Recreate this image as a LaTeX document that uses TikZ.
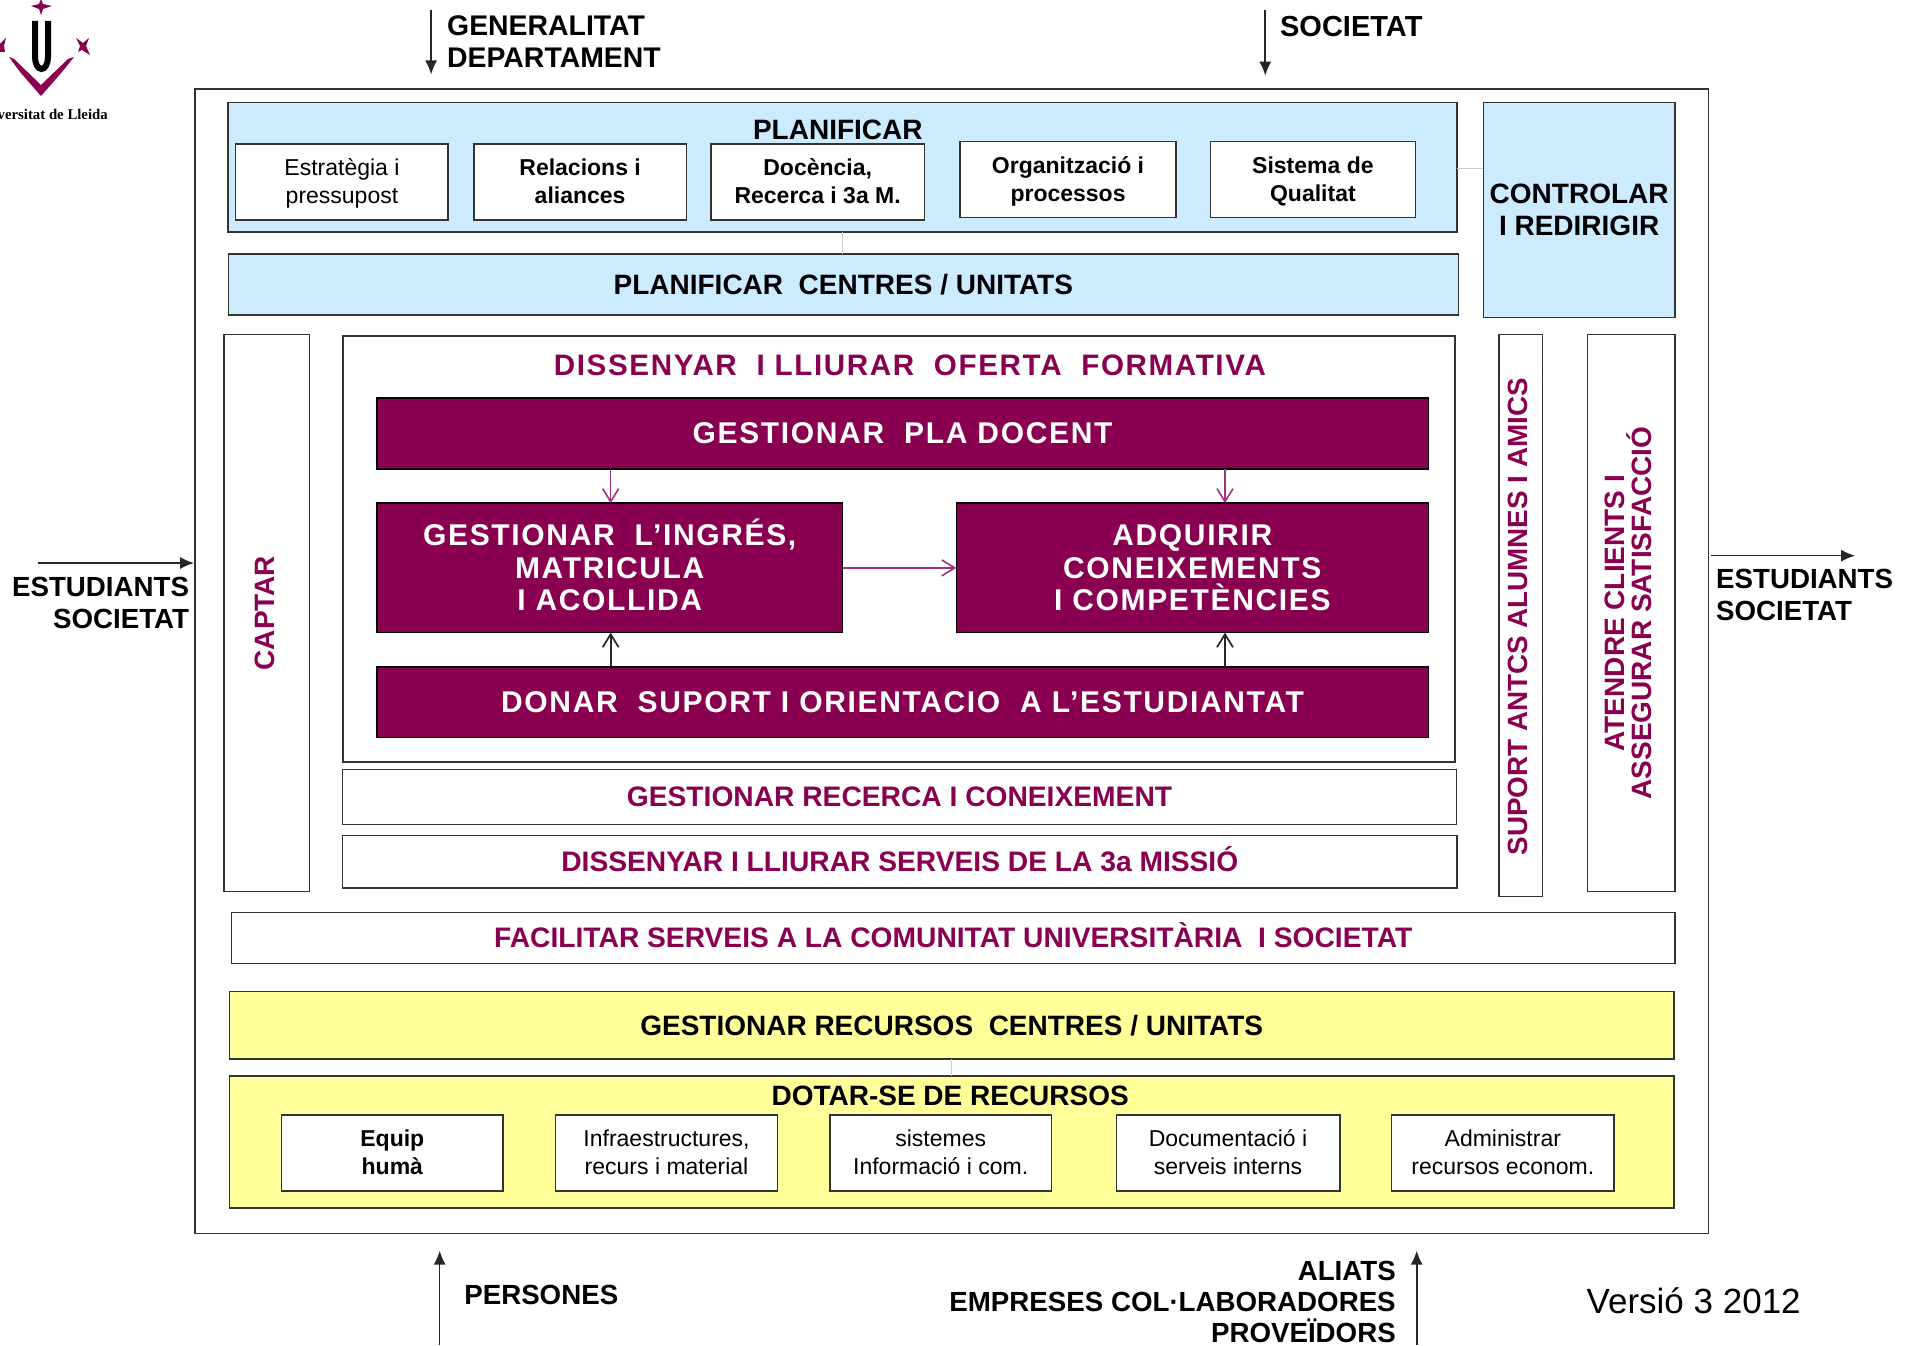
\documentclass[tikz,border=0pt]{standalone}
\usepackage{fontspec}
\setmainfont{Liberation Sans}
\newfontfamily\logofont{Liberation Serif}
\newfontfamily\spacedfont[LetterSpace=5.5]{Liberation Sans}
\usetikzlibrary{arrows.meta}
\definecolor{ulpurple}{HTML}{8A0050}
\definecolor{ularrow}{HTML}{A03080}
\definecolor{ulblue}{HTML}{CCEBFF}
\definecolor{ulyellow}{HTML}{FFFF99}
\newcommand{\fs}[1]{\fontsize{#1}{#1}\selectfont}
\newcommand{\lst}{\rule[-6pt]{0pt}{28pt}}
\newcommand{\bst}{\rule[-10pt]{0pt}{40pt}}
% \ulbox{style}{name}{x1}{y1}{x2}{y2}{text}
\newcommand{\ulbox}[7]{%
  \pgfmathsetmacro{\ulcx}{(#3+#5)/2}%
  \pgfmathsetmacro{\ulcy}{(#4+#6)/2}%
  \pgfmathsetmacro{\ulw}{(#5-#3)*1.2213}%
  \pgfmathsetmacro{\ulh}{(#6-#4)*1.2213}%
  \node[#1,minimum width=\ulw pt,minimum height=\ulh pt] (#2) at (\ulcx,\ulcy) {#7};%
}
\tikzset{
 base/.style={draw=black!80,line width=1.5pt,inner sep=0pt,outer sep=0pt,align=center},
 whitebox/.style={base,fill=white},
 bluebox/.style={base,fill=ulblue,font=\fs{28}\bfseries,text=black,execute at begin node={\setlength{\baselineskip}{32pt}}},
 yellowbox/.style={base,fill=ulyellow,font=\fs{28}\bfseries},
 darkbox/.style={base,fill=ulpurple,draw=black,text=white,font=\spacedfont\fs{30}\bfseries,execute at begin node={\setlength{\baselineskip}{32.5pt}}},
 purplelabel/.style={base,fill=white,text=ulpurple,font=\fs{28.2}\bfseries},
 smallbox/.style={base,fill=white,font=\fs{23},execute at begin node={\setlength{\baselineskip}{28pt}}},
 smallbold/.style={smallbox,font=\fs{23}\bfseries},
 plainlabel/.style={inner sep=0pt,align=center},
 bigtext/.style={plainlabel,font=\fs{28}\bfseries,execute at begin node={\setlength{\baselineskip}{32pt}}},
 sidetext/.style={plainlabel,rotate=90,text=ulpurple,font=\fs{28}\bfseries,execute at begin node={\setlength{\baselineskip}{27pt}}},
 flow/.style={-{Latex[length=14pt,width=12pt]},line width=1.6pt,black!85},
 inpurple/.style={-{Straight Barb[length=13pt,width=16pt]},line width=1.6pt,ularrow},
 inblack/.style={-{Straight Barb[length=13pt,width=16pt]},line width=1.7pt,black!85},
 faint/.style={line width=.6pt,black!20},
}
\begin{document}
\begin{tikzpicture}[x=1.22130pt,y=-1.22130pt]
\useasboundingbox (0,0) rectangle (1568,1102);
\clip (0,0) rectangle (1568,1102);
% frame
\ulbox{whitebox}{outer}{159.5}{73}{1399}{1010}{}
% planning
\ulbox{bluebox}{plan}{186.5}{84}{1193}{190}{}
\node[bigtext] (plant) at (686,106) {PLANIFICAR};
\ulbox{smallbox}{p1}{193}{118}{367}{180}{\lst Estratègia i\\\lst pressupost}
\ulbox{smallbold}{p2}{388}{118}{562}{180}{\lst Relacions i\\\lst aliances}
\ulbox{smallbold}{p3}{582}{118}{757}{180}{\lst Docència,\\\lst Recerca i 3a M.}
\ulbox{smallbold}{p4}{786}{116}{963}{178}{\lst Organització i\\\lst processos}
\ulbox{smallbold}{p5}{991}{116}{1159}{178}{\lst Sistema de\\\lst Qualitat}
\ulbox{bluebox}{planc}{187}{208}{1194}{258}{PLANIFICAR\ \ CENTRES / UNITATS}
\ulbox{bluebox}{ctrl}{1214.5}{84}{1371.5}{260}{CONTROLAR\\I REDIRIGIR}
\coordinate (fa) at (690,0);
\coordinate (fb) at (0,138);
\draw[faint] (plan.south -| fa) -- (planc.north -| fa);
\draw[faint] (plan.east |- fb) -- (ctrl.west |- fb);
% side columns
\ulbox{whitebox}{captar}{183.5}{274}{253.5}{730}{}
\node[sidetext] (captart) at (217,502) {CAPTAR};
\ulbox{whitebox}{suport}{1227.5}{274}{1263}{734}{}
\node[sidetext,font=\fs{27.8}\bfseries] (suportt) at (1243,505) {SUPORT ANTCS ALUMNES I AMICS};
\ulbox{whitebox}{atendre}{1300}{274}{1371.5}{730}{}
\node[sidetext] (atendret) at (1333,502) {ATENDRE CLIENTS I\\ASSEGURAR SATISFACCIÓ};
% teaching
\ulbox{whitebox}{diss}{281}{275}{1191.5}{624}{}
\node[plainlabel,text=ulpurple,font=\spacedfont\fs{29.6}\bfseries] (disst) at (745,299) {DISSENYAR\ \ I LLIURAR\ \ OFERTA\ \ FORMATIVA};
\ulbox{darkbox}{pla}{308.5}{326}{1169.5}{384}{GESTIONAR\ \ PLA DOCENT}
\ulbox{darkbox}{ing}{308.5}{412}{690}{518}{GESTIONAR\ \ L’INGRÉS,\\MATRICULA\\I ACOLLIDA\rule[-6pt]{0pt}{0pt}}
\ulbox{darkbox}{adq}{783}{412}{1169.5}{518}{ADQUIRIR\\CONEIXEMENTS\\I COMPETÈNCIES}
\ulbox{darkbox}{don}{308.5}{546}{1169.5}{604}{DONAR\ \ SUPORT\ I ORIENTACIO\ \ A L’ESTUDIANTAT}
\coordinate (aa) at (500,0);
\coordinate (ab) at (1003,0);
\draw[inpurple] (pla.south -| aa) -- (ing.north -| aa);
\draw[inpurple] (pla.south -| ab) -- (adq.north -| ab);
\draw[inpurple] (ing.east) -- (adq.west);
\draw[inblack] (don.north -| aa) -- (ing.south -| aa);
\draw[inblack] (don.north -| ab) -- (adq.south -| ab);
\ulbox{purplelabel}{rec}{280.5}{630}{1192.5}{675}{\bst GESTIONAR RECERCA I CONEIXEMENT}
\ulbox{purplelabel}{ser}{280.5}{684}{1193}{727}{\bst DISSENYAR I LLIURAR SERVEIS DE LA 3a MISSIÓ}
\ulbox{purplelabel}{fac}{189.5}{747}{1371.5}{789}{\bst FACILITAR SERVEIS A LA COMUNITAT UNIVERSITÀRIA\ \ I SOCIETAT}
% resources
\ulbox{yellowbox}{rcu}{188}{812}{1370.5}{867}{GESTIONAR RECURSOS\ \ CENTRES / UNITATS}
\ulbox{yellowbox}{dot}{188}{881}{1370.5}{989}{}
\node[bigtext] (dott) at (778,897) {DOTAR-SE DE RECURSOS};
\coordinate (fc) at (779,0);
\draw[faint] (rcu.south -| fc) -- (dot.north -| fc);
\ulbox{smallbold}{r1}{230.5}{913}{412}{975}{\lst Equip\\\lst humà}
\ulbox{smallbox}{r2}{455}{913}{636.5}{975}{\lst Infraestructures,\\\lst recurs i material}
\ulbox{smallbox}{r3}{679.5}{913}{861}{975}{\lst sistemes\\\lst Informació i com.}
\ulbox{smallbox}{r4}{914}{913}{1097}{975}{\lst Documentació i\\\lst serveis interns}
\ulbox{smallbox}{r5}{1139.5}{913}{1321.5}{975}{\lst Administrar\\\lst recursos econom.}
% external labels and arrows
\coordinate (c1a) at (353,8); \coordinate (c1b) at (353,61);
\coordinate (c2a) at (1036,8); \coordinate (c2b) at (1036,62);
\coordinate (c3a) at (31,461); \coordinate (c3b) at (159,461);
\coordinate (c4a) at (1401,455); \coordinate (c4b) at (1519,455);
\coordinate (c5a) at (360,1101); \coordinate (c5b) at (360,1024);
\coordinate (c6a) at (1160,1101); \coordinate (c6b) at (1160,1024);
\draw[flow] (c1a) -- (c1b);
\draw[flow] (c2a) -- (c2b);
\draw[flow] (c3a) -- (c3b);
\draw[flow] (c4a) -- (c4b);
\draw[flow] (c5a) -- (c5b);
\draw[flow] (c6a) -- (c6b);
\node[bigtext,anchor=west,align=left,font=\fs{28.4}\bfseries] (gen) at (366,34) {GENERALITAT\\DEPARTAMENT};
\node[bigtext,anchor=west,font=\fs{29}\bfseries] (soc) at (1048,22) {SOCIETAT};
\node[bigtext,anchor=east,align=right,font=\fs{27.7}\bfseries] (est1) at (155,494) {ESTUDIANTS\\SOCIETAT};
\node[bigtext,anchor=west,align=left,font=\fs{27.7}\bfseries] (est2) at (1405,487) {ESTUDIANTS\\SOCIETAT};
\node[bigtext,anchor=west,font=\fs{27.7}\bfseries] (per) at (380,1060) {PERSONES};
\node[bigtext,anchor=east,align=right,font=\fs{27.7}\bfseries,execute at begin node={\setlength{\baselineskip}{31pt}}] (ali) at (1143,1066) {ALIATS\\EMPRESES COL·LABORADORES\\PROVEÏDORS};
\node[plainlabel,anchor=west,font=\fs{35}] (ver) at (1299,1065) {Versió 3 2012};
% logo (drawn in full-size pixels)
\begin{scope}[x=1pt,y=-1pt]
\fill[ulpurple] (41,-1) -- (43,4) -- (52,6) -- (43,9) -- (41,15) -- (39,9) -- (31,6) -- (39,4) -- cycle;
\draw[black,line width=6pt] (35,21) -- (35,57) arc[start angle=180,end angle=0,x radius=6.5,y radius=12] -- (48,21);
\fill[ulpurple] (9,57) -- (14,59) -- (41,85) -- (68,59) -- (74,57) -- (62,72) -- (41,96) -- (20,72) -- cycle;
\fill[ulpurple] (76,38) -- (83,43) -- (89,38) -- (86,46) -- (90,55) -- (82,50) -- (78,52) -- (80,46) -- cycle;
\fill[ulpurple] (0,44) -- (6,38) -- (4,46) -- (5,52) -- (0,52) -- cycle;
\node[plainlabel,anchor=base east,font=\logofont\fs{14.8}\bfseries] (logot) at (108,120) {Universitat de Lleida};
\end{scope}
\end{tikzpicture}
\end{document}
